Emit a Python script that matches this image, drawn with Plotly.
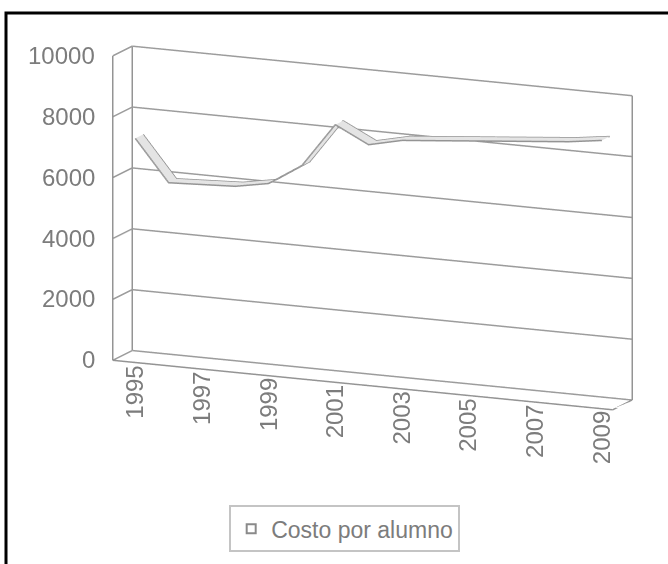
import math
import plotly.graph_objects as go

# Cost per student, one value per school year
years = [str(y) for y in range(1995, 2010)]
costo = [7250, 5900, 5950, 6000, 6200, 6900, 8350, 7800, 8050, 8150, 8250, 8350, 8450, 8550, 8700]
z_ticks = [0, 2000, 4000, 6000, 8000, 10000]
shown_years = years[::2]
series_name = "Costo por alumno"

GRID = "#9c9c9c"
EDGE = "#949494"
TEXT = "#7c7c7c"
FONT = "Liberation Sans, Arial, sans-serif"
FSIZE = 24

n = len(years)
idx = list(range(n))
X0, X1 = -0.5, n - 0.5          # category walls
Y0, Y1 = 0.0, 1.0                # depth (front -> back)
Z0, Z1 = z_ticks[0], z_ticks[-1]
R0, R1 = 0.3, 0.7                # ribbon depth band

fig = go.Figure()

# value gridlines running along the left wall and the back wall
gx, gy, gz = [], [], []
for v in z_ticks:
    gx += [X0, X0, X1, None]
    gy += [Y0, Y1, Y1, None]
    gz += [v, v, v, None]
fig.add_trace(go.Scatter3d(x=gx, y=gy, z=gz, mode="lines",
                           line=dict(color=GRID, width=3),
                           hoverinfo="skip", showlegend=False))

# box edges: walls and floor
ex = [X0, X0, None, X0, X0, None, X1, X1, None, X0, X1, X1, None]
ey = [Y0, Y0, None, Y1, Y1, None, Y1, Y1, None, Y0, Y0, Y1, None]
ez = [Z0, Z1, None, Z0, Z1, None, Z0, Z1, None, Z0, Z0, Z0, None]
fig.add_trace(go.Scatter3d(x=ex, y=ey, z=ez, mode="lines",
                           line=dict(color=EDGE, width=3),
                           hoverinfo="skip", showlegend=False))

# value axis tick marks
tx, ty, tz = [], [], []
for v in z_ticks:
    tx += [X0 - 0.3, X0, None]
    ty += [Y0, Y0, None]
    tz += [v, v, None]
fig.add_trace(go.Scatter3d(x=tx, y=ty, z=tz, mode="lines",
                           line=dict(color=EDGE, width=3),
                           hoverinfo="skip", showlegend=False))

# the 3-D line: a ribbon with its two edges
fig.add_trace(go.Surface(x=idx, y=[R0, R1], z=[costo, costo],
                         colorscale=[[0, "#e4e4e4"], [1, "#e4e4e4"]],
                         showscale=False, hoverinfo="skip", showlegend=False,
                         lighting=dict(ambient=1, diffuse=0, specular=0, fresnel=0)))
for d in (R0, R1):
    fig.add_trace(go.Scatter3d(x=idx, y=[d] * n, z=costo, mode="lines",
                               line=dict(color=EDGE, width=3),
                               hoverinfo="skip", showlegend=False))

# legend entry for the series
fig.add_trace(go.Scatter(x=[None], y=[None], mode="markers", name=series_name,
                         marker=dict(symbol="square-open", size=9, color="#8a8a8a",
                                     line=dict(width=2))))

annotations = []
for v in z_ticks:
    annotations.append(dict(x=X0, y=Y0, z=v, text=str(v), showarrow=False,
                            xanchor="right", xshift=-16,
                            font=dict(family=FONT, size=FSIZE, color=TEXT)))
for i, yr in enumerate(years):
    if yr in shown_years:
        annotations.append(dict(x=i, y=Y0, z=Z0, text=yr, showarrow=False,
                                textangle=-90, yanchor="top", yshift=-2, xshift=5,
                                font=dict(family=FONT, size=FSIZE, color=TEXT)))

# view: rotation about the vertical axis and elevation above the floor
rot = math.radians(24.0)
elev = math.radians(12.86)
eye = (2 * math.sin(rot) * math.cos(elev),
       -2 * math.cos(rot) * math.cos(elev),
       2 * math.sin(elev))

hidden = dict(visible=False, autorange=False)
fig.update_layout(
    width=668, height=564,
    margin=dict(l=0, r=0, t=0, b=0),
    paper_bgcolor="white", plot_bgcolor="white",
    xaxis=dict(visible=False), yaxis=dict(visible=False),
    scene=dict(
        domain=dict(x=[0.116, 1.0], y=[0.2016, 0.9916]),
        xaxis=dict(hidden, range=[X0, X1]),
        yaxis=dict(hidden, range=[Y0, Y1]),
        zaxis=dict(hidden, range=[Z0, Z1]),
        aspectmode="manual",
        aspectratio=dict(x=2.454, y=0.215, z=1.40),
        camera=dict(eye=dict(x=eye[0], y=eye[1], z=eye[2]),
                    up=dict(x=0, y=0, z=1), center=dict(x=0, y=0, z=0),
                    projection=dict(type="orthographic")),
        annotations=annotations,
    ),
    showlegend=True,
    legend=dict(orientation="h", x=0.516, xanchor="center", y=0.104, yanchor="top",
                bordercolor="#c4c4c4", borderwidth=2, bgcolor="white",
                font=dict(family=FONT, size=23, color=TEXT)),
    shapes=[dict(type="rect", xref="paper", yref="paper",
                 x0=6 / 668, x1=1.05, y0=-0.05, y1=1 - 13 / 564,
                 line=dict(color="black", width=3))],
)

fig.write_html("out.html")
